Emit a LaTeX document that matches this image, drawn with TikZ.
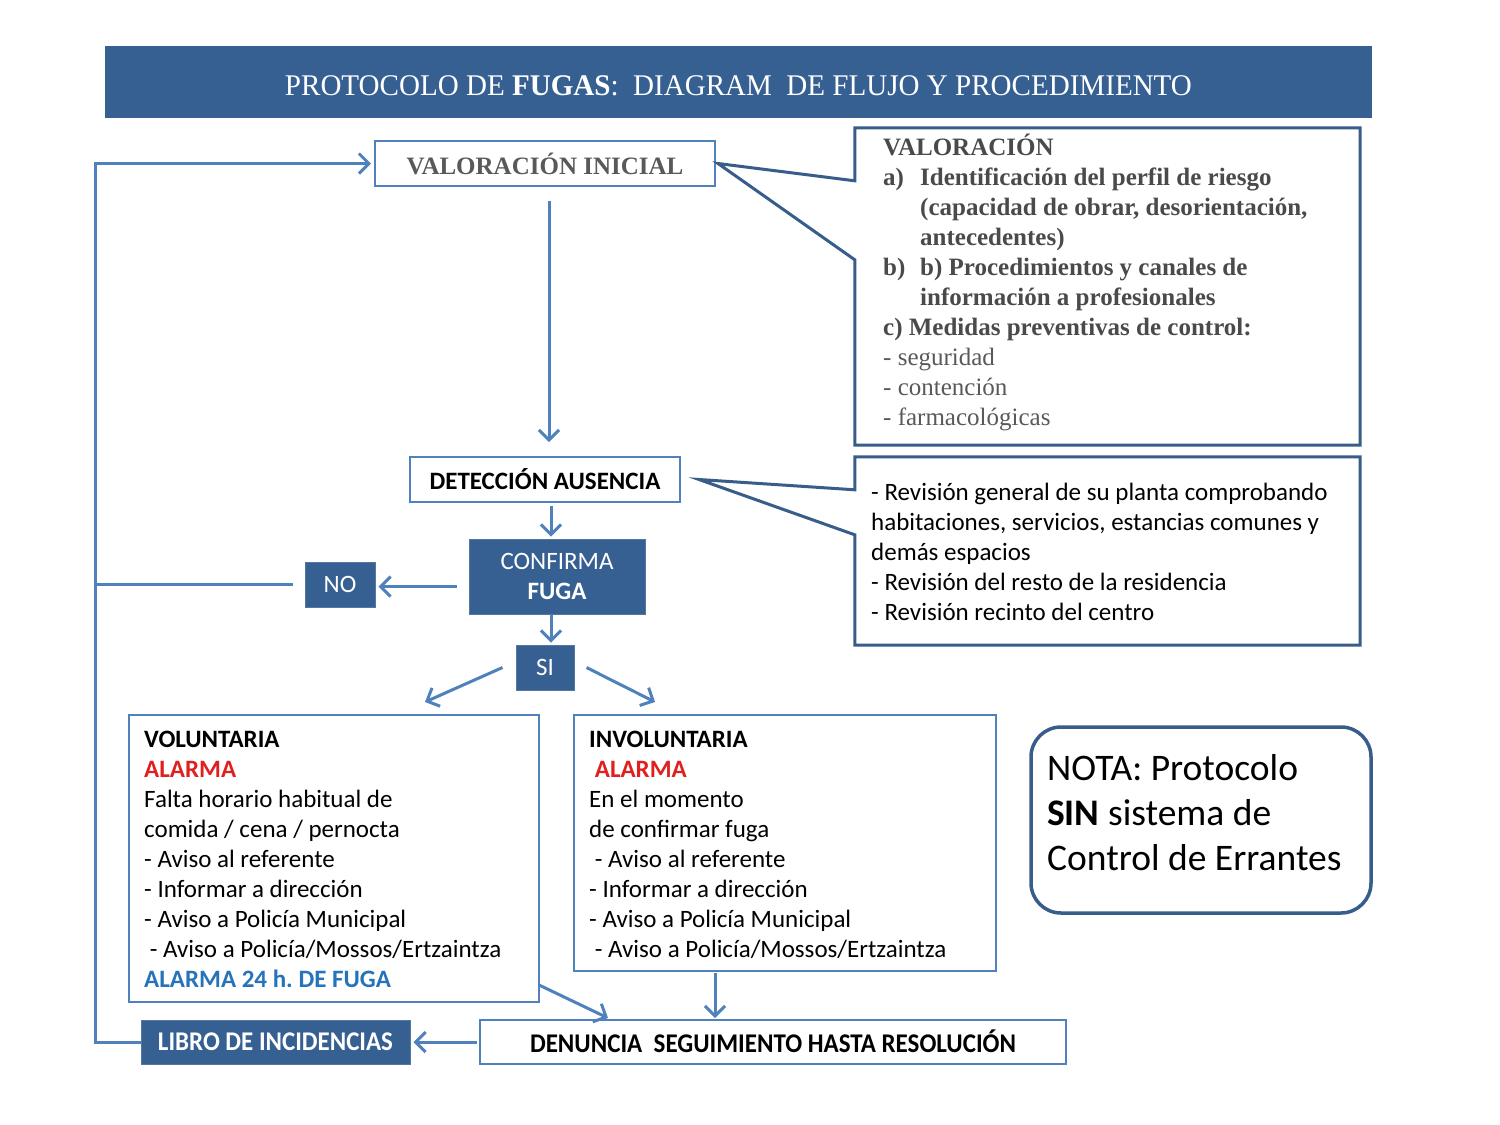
\documentclass[tikz,border=0pt]{standalone}
\usepackage{fontspec}
\usepackage{graphicx}
\setmainfont{Liberation Serif}
\newfontfamily\calib{Carlito}
\usetikzlibrary{arrows.meta}
\definecolor{hdrblue}{HTML}{376092}
\definecolor{lb}{HTML}{4F81BD}
\definecolor{db}{HTML}{385D8A}
\definecolor{greytxt}{HTML}{595959}
\definecolor{dgreytxt}{HTML}{4A4A4A}
\definecolor{alarmred}{HTML}{E0201E}
\definecolor{alarmblue}{HTML}{2673BA}
\begin{document}
\frenchspacing
\begin{tikzpicture}[x=1pt,y=-1pt,
  box/.style={draw=lb, line width=2pt, fill=white, inner sep=0pt},
  darkbox/.style={fill=hdrblue, draw=hdrblue!85!white, line width=1pt, inner sep=0pt, text=white},
  arr/.style={draw=lb, line width=3pt, -{Straight Barb[length=10pt,width=20pt]}},
  plainline/.style={draw=lb, line width=3pt},
  callout/.style={draw=db, line width=3pt, line join=miter},
  cal/.style={font=\calib\fontsize{25}{30}\selectfont},
  txt/.style={anchor=north west, inner sep=0pt, align=left}
]
\fill[white] (0,0) rectangle (1500,1125);
\useasboundingbox (0,0) rectangle (1500,1125);

% header
\node[fill=hdrblue, minimum width=1267pt, minimum height=72pt, inner sep=0pt] (hdr) at (738.5,82) {};
\node[anchor=base, inner sep=0pt, text=white, font=\fontsize{30}{36}\selectfont] (title) at (738.5,95)
  {\resizebox{907pt}{\height}{PROTOCOLO DE \textbf{FUGAS}:\ \ DIAGRAM\ \ DE FLUJO Y PROCEDIMIENTO}};

% valoracion inicial
\node[box, minimum width=340pt, minimum height=45pt, text=greytxt, font=\bfseries\fontsize{25}{28}\selectfont] (vi) at (545,163.5) {VALORACIÓN INICIAL};

% callout valoracion
\node[minimum width=505pt, minimum height=317pt, inner sep=0pt] (val) at (1107.5,286.5) {};
\draw[callout] ([yshift=-53pt]val.north west) -- (val.north west) -- (val.north east) -- (val.south east) -- (val.south west) -- ([yshift=-132pt]val.north west) -- ([xshift=2pt]vi.east) -- cycle;
\node[txt, text=dgreytxt, font=\fontsize{25}{30}\selectfont] (valtxt) at (883,134) {%
\strut\textbf{VALORACIÓN}\\
\textbf{\makebox[37pt][l]{a)}Identificación del perfil de riesgo}\\
\textbf{\hspace*{37pt}(capacidad de obrar, desorientación,}\\
\textbf{\hspace*{37pt}antecedentes)}\\
\textbf{\makebox[37pt][l]{b)}b) Procedimientos y canales de}\\
\textbf{\hspace*{37pt}información a profesionales}\\
\textbf{c) Medidas preventivas de control:}\\
\textcolor{greytxt}{- seguridad}\\
\textcolor{greytxt}{- contención}\\
\textcolor{greytxt}{- farmacológicas}};

% deteccion
\node[box, minimum width=270pt, minimum height=45pt, font=\calib\bfseries\fontsize{25}{28}\selectfont] (det) at (545,479.5) {DETECCIÓN AUSENCIA};

% callout revision
\node[minimum width=505pt, minimum height=188pt, inner sep=0pt] (rev) at (1107.5,551) {};
\draw[callout] ([yshift=-33pt]rev.north west) -- (rev.north west) -- (rev.north east) -- (rev.south east) -- (rev.south west) -- ([yshift=-78pt]rev.north west) -- ([xshift=18pt]det.east) -- cycle;
\node[txt, cal] (revtxt) at (871,479) {%
\strut- Revisión general de su planta comprobando\\
habitaciones, servicios, estancias comunes y\\
demás espacios\\
- Revisión del resto de la residencia\\
- Revisión recinto del centro};

% confirma, no, si
\node[darkbox, minimum width=176pt, minimum height=75pt, align=center, cal] (cf) at (557,576.5) {CONFIRMA\\\textbf{FUGA}};
\node[darkbox, minimum width=70pt, minimum height=45pt, cal] (no) at (340,584.5) {NO};
\node[darkbox, minimum width=58pt, minimum height=45pt, cal] (si) at (545,667.5) {SI};

% voluntaria / involuntaria
\node[box, minimum width=410pt, minimum height=287pt] (vol) at (334,858.5) {};
\node[txt, cal] (voltxt) at (144,726) {%
\strut\textbf{VOLUNTARIA}\\
\textcolor{alarmred}{\textbf{ALARMA}}\\
Falta horario habitual de\\
comida / cena / pernocta\\
- Aviso al referente\\
- Informar a dirección\\
- Aviso a Policía Municipal\\
\ - Aviso a Policía/Mossos/Ertzaintza\\
\textcolor{alarmblue}{\textbf{ALARMA 24 h. DE FUGA}}};

\node[box, minimum width=422pt, minimum height=256pt] (inv) at (785,843) {};
\node[txt, cal] (invtxt) at (589,726) {%
\strut\textbf{INVOLUNTARIA}\\
\ \textcolor{alarmred}{\textbf{ALARMA}}\\
En el momento\\
de confirmar fuga\\
\ - Aviso al referente\\
- Informar a dirección\\
- Aviso a Policía Municipal\\
\ - Aviso a Policía/Mossos/Ertzaintza};

% bottom boxes
\node[box, minimum width=586pt, minimum height=44pt, font=\calib\bfseries\fontsize{27}{30}\selectfont] (den) at (773,1042)
  {\raisebox{1.5pt}{\resizebox{486pt}{\height}{DENUNCIA\ \ SEGUIMIENTO HASTA RESOLUCIÓN}}};
\node[darkbox, minimum width=269pt, minimum height=44pt, font=\calib\bfseries\fontsize{27}{30}\selectfont] (libro) at (275.5,1042)
  {\resizebox{235pt}{\height}{LIBRO DE INCIDENCIAS}};

% nota
\node[draw=db, line width=3.5pt, rounded corners=30pt, minimum width=340pt, minimum height=186pt, inner sep=0pt] (nota) at (1201,820) {};
\node[txt, font=\calib\fontsize{37.5}{45}\selectfont] (notatxt) at (1047,748.5) {%
\strut NOTA: Protocolo\\
\textbf{SIN} sistema de\\
Control de Errantes};

% connectors
\coordinate (lc) at (95,1042);
\coordinate (volin) at (425,702);
\coordinate (invin) at (655,702);
\coordinate (volout) at (539,985);
\coordinate (denin1) at (608,1018);
\coordinate (invout) at (715,973);
\coordinate (denin2) at (715,1018);

\draw[arr, shorten <=14pt, shorten >=14pt] ([xshift=4pt]vi.south) -- ([xshift=4pt]det.north);
\draw[arr, shorten <=3pt, shorten >=2pt] ([xshift=6pt]det.south) -- ([xshift=-6pt]cf.north);
\draw[arr, shorten <=12pt, shorten >=3pt] ([yshift=-2pt]cf.west |- no.east) -- ([yshift=-2pt]no.east);
\draw[plainline] ([xshift=-12pt]no.west) -- (lc |- no.west);
\draw[arr, shorten >=3pt] (libro.west) -- (lc) |- (vi.west);
\draw[arr, shorten >=2pt] ([xshift=-6pt]cf.south) -- ([xshift=6pt]si.north);
\draw[arr] ([xshift=-13pt]si.west) -- (volin);
\draw[arr] ([xshift=12pt]si.east) -- (invin);
\draw[arr] (volout) -- (denin1);
\draw[arr] (invout) -- (denin2);
\draw[arr, shorten <=2pt, shorten >=3pt] (den.west) -- (libro.east);
\end{tikzpicture}
\end{document}
